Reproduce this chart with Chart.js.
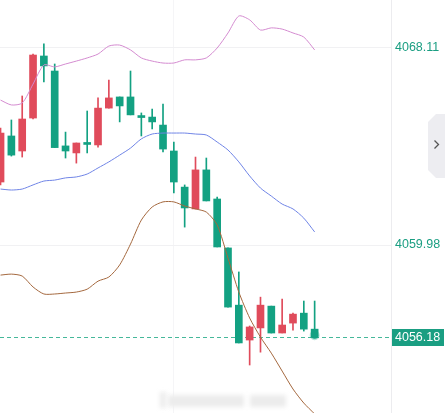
<!DOCTYPE html>
<html>
<head>
<meta charset="utf-8">
<script src="https://cdn.jsdelivr.net/npm/chart.js@4.4.1/dist/chart.umd.min.js"></script>
<style>
  html, body { margin: 0; padding: 0; background: #fff; overflow: hidden; }
  #wrap { width: 445px; height: 413px; }
</style>
</head>
<body>
<div id="wrap"><canvas id="kline" width="445" height="413"></canvas></div>
<script>
// candles, oldest first (red = up, green = down)
const opens  = [4062.58, 4064.48, 4063.86, 4065.22, 4067.78, 4067.16, 4064.07, 4063.78, 4064.17, 4064.11,
                4065.63, 4066.09, 4066.09, 4065.28, 4065.26, 4064.93, 4063.86, 4062.37, 4061.47, 4063.08,
                4061.88, 4059.86, 4057.50, 4056.06, 4056.56, 4057.46, 4056.35, 4056.76, 4057.17, 4056.51];
const highs  = [4064.81, 4065.14, 4066.13, 4067.86, 4068.28, 4067.45, 4064.64, 4064.19, 4065.51, 4066.05,
                4066.79, 4066.09, 4067.16, 4065.43, 4065.59, 4065.80, 4064.23, 4062.46, 4063.61, 4063.57,
                4061.96, 4059.86, 4058.87, 4056.64, 4057.83, 4057.46, 4057.75, 4057.17, 4057.67, 4057.67];
const lows   = [4062.46, 4063.65, 4063.61, 4065.18, 4066.71, 4064.00, 4063.57, 4063.36, 4063.78, 4064.02,
                4065.63, 4065.06, 4065.35, 4064.48, 4064.77, 4063.82, 4062.13, 4060.72, 4061.47, 4061.80,
                4059.90, 4057.42, 4055.94, 4055.03, 4055.56, 4056.35, 4056.35, 4056.47, 4056.43, 4056.18];
const closes = [4064.60, 4063.69, 4065.18, 4067.82, 4067.37, 4064.00, 4063.86, 4064.19, 4064.13, 4065.63,
                4066.05, 4065.72, 4065.35, 4065.24, 4065.06, 4063.94, 4062.58, 4061.51, 4063.08, 4061.80,
                4059.90, 4057.42, 4055.94, 4056.60, 4057.50, 4056.35, 4056.68, 4057.13, 4056.51, 4056.18];

// Bollinger bands
const bollUpper = [4065.96, 4065.76, 4065.84, 4066.62, 4067.41, 4067.33, 4067.45, 4067.57, 4067.70, 4067.86,
                   4068.19, 4068.23, 4068.03, 4067.70, 4067.57, 4067.49, 4067.49, 4067.62, 4067.62, 4067.70,
                   4068.11, 4068.73, 4069.43, 4069.27, 4068.85, 4068.94, 4068.89, 4068.73, 4068.56, 4068.03];
const bollMid   = [4062.29, 4062.25, 4062.29, 4062.46, 4062.62, 4062.66, 4062.75, 4062.79, 4062.91, 4063.16,
                   4063.41, 4063.69, 4063.98, 4064.36, 4064.56, 4064.60, 4064.60, 4064.60, 4064.56, 4064.52,
                   4064.23, 4063.90, 4063.41, 4062.83, 4062.33, 4062.00, 4061.67, 4061.47, 4061.09, 4060.52];
const bollLower = [4058.74, 4058.78, 4058.70, 4058.25, 4057.96, 4057.96, 4058.00, 4058.04, 4058.16, 4058.49,
                   4058.66, 4059.16, 4060.02, 4061.01, 4061.55, 4061.76, 4061.76, 4061.59, 4061.47, 4061.34,
                   4060.81, 4059.44, 4058.04, 4056.97, 4056.18, 4055.52, 4054.78, 4054.04, 4053.46, 4053.01];

const yTicks = [4059.98, 4068.11];
const lastPrice = 4056.18;

const UP = '#e04b5b';
const DOWN = '#13a182';
const TEAL = '#1a9e82';

const colors = opens.map((o, i) => closes[i] >= o ? UP : DOWN);
const pts = arr => arr.map((v, i) => ({ x: i, y: v }));

const overlay = {
  id: 'overlay',
  beforeDatasetsDraw(chart) {
    const { ctx, chartArea } = chart;
    const y = chart.scales.y.getPixelForValue(lastPrice);
    ctx.save();
    ctx.strokeStyle = '#46b89a';
    ctx.lineWidth = 1;
    ctx.setLineDash([4, 3]);
    ctx.beginPath();
    ctx.moveTo(chartArea.left, Math.round(y) + 0.5);
    ctx.lineTo(chartArea.right, Math.round(y) + 0.5);
    ctx.stroke();
    // blurred watermark
    ctx.setLineDash([]);
    ctx.filter = 'blur(2px)';
    ctx.fillStyle = '#ececec';
    ctx.fillRect(168, 395, 76, 12);
    ctx.fillRect(250, 395, 36, 12);
    ctx.fillRect(160, 392, 6, 16);
    ctx.restore();
  },
  afterDraw(chart) {
    const { ctx, chartArea } = chart;
    const y = Math.round(chart.scales.y.getPixelForValue(lastPrice));
    ctx.save();
    ctx.fillStyle = TEAL;
    ctx.fillRect(chartArea.right + 1, y - 8, 52, 17);
    ctx.fillStyle = '#fff';
    ctx.font = '12.5px "Liberation Sans", Arial, sans-serif';
    ctx.textBaseline = 'middle';
    ctx.fillText(lastPrice.toFixed(2), chartArea.right + 4, y + 1);

    // side tab
    ctx.fillStyle = '#ededf1';
    ctx.beginPath();
    ctx.moveTo(445, 114);
    ctx.lineTo(436, 114);
    ctx.lineTo(428, 122);
    ctx.lineTo(428, 170);
    ctx.lineTo(436, 178);
    ctx.lineTo(445, 178);
    ctx.closePath();
    ctx.fill();
    ctx.strokeStyle = '#555';
    ctx.lineWidth = 1.3;
    ctx.beginPath();
    ctx.moveTo(434.5, 140.5);
    ctx.lineTo(438.5, 144.5);
    ctx.lineTo(434.5, 148.5);
    ctx.stroke();
    ctx.restore();
  }
};

function noPad(s) {
  s.paddingTop = 0; s.paddingBottom = 0; s.paddingLeft = 0; s.paddingRight = 0;
}

new Chart(document.getElementById('kline'), {
  type: 'bar',
  data: {
    datasets: [
      { type: 'line', data: pts(bollUpper), borderColor: '#d48bd0', borderWidth: 1, pointRadius: 0, tension: 0.25, order: 0 },
      { type: 'line', data: pts(bollMid), borderColor: '#6f84e6', borderWidth: 1, pointRadius: 0, tension: 0.25, order: 0 },
      { type: 'line', data: pts(bollLower), borderColor: '#a4683e', borderWidth: 1, pointRadius: 0, tension: 0.25, order: 0 },
      { type: 'scatter', data: [{ x: opens.length - 1, y: lastPrice + 0.08 }], backgroundColor: DOWN,
        borderColor: 'rgba(19,161,130,0.3)', borderWidth: 3, pointRadius: 3.5, order: -1 },
      { data: opens.map((o, i) => ({ x: i, y: [o, closes[i]] })), backgroundColor: colors,
        barThickness: 7, minBarLength: 2, grouped: false, order: 1 },
      { data: lows.map((l, i) => ({ x: i, y: [l, highs[i]] })), backgroundColor: colors,
        barThickness: 1, grouped: false, order: 2 }
    ]
  },
  options: {
    responsive: false,
    animation: false,
    events: [],
    layout: { padding: 0, autoPadding: false },
    plugins: { legend: { display: false }, tooltip: { enabled: false } },
    scales: {
      x: {
        type: 'linear', min: -0.05, max: 36.05, offset: false,
        ticks: { display: false },
        grid: { color: '#f5f5f7', drawTicks: false, offset: false },
        border: { display: false },
        afterBuildTicks: s => { s.ticks = [{ value: 16 }]; },
        afterFit: s => { s.height = 0; noPad(s); }
      },
      y: {
        position: 'right', min: 4053.05, max: 4070.09,
        afterBuildTicks: s => { s.ticks = yTicks.map(v => ({ value: v })); },
        afterFit: s => { s.width = 54; noPad(s); },
        ticks: { color: TEAL, padding: 4, font: { size: 12.5, family: '"Liberation Sans", Arial, sans-serif' },
                 callback: v => v.toFixed(2) },
        grid: { color: '#f1f1f3', drawTicks: false },
        border: { color: '#ececef' }
      }
    }
  },
  plugins: [overlay]
});
</script>
</body>
</html>
